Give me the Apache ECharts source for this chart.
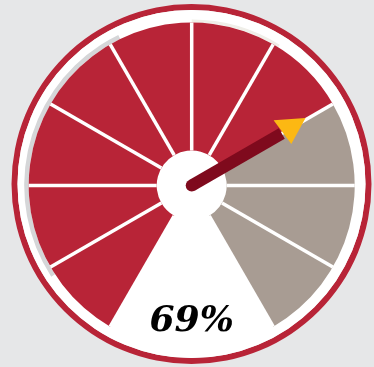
<!DOCTYPE html>
<html>
<head>
<meta charset="utf-8">
<style>
  html, body { margin: 0; padding: 0; background: #e6e7e8; }
  #chart { width: 374px; height: 367px; }
</style>
<script src="https://cdn.jsdelivr.net/npm/echarts@6/dist/echarts.min.js"></script>
</head>
<body>
<div id="chart"></div>
<script>
// ---- data ----
var gaugeValue = 69;            // percentage shown
var segmentCount = 10;          // number of wedges
var scaleMin = 0;
var scaleMax = 100;

// derived: the wedges fill in whole segments, pointer snaps to the filled boundary
var segStep = (scaleMax - scaleMin) / segmentCount;
var filledSegments = Math.round(gaugeValue / segStep);
var pointerValue = filledSegments * segStep;
var fillRatio = filledSegments / segmentCount;

var RED = '#b82437';
var GRAY = '#a89c93';
var DARK = '#7f0a1d';
var YELLOW = '#fcb813';
var CX = 191.7, CY = 185.5;

var chart = echarts.init(document.getElementById('chart'), null, { renderer: 'canvas' });

function ringGauge(center, radius, width, start, end, color, z) {
  return {
    type: 'gauge', center: center, radius: radius,
    startAngle: start, endAngle: end, z: z,
    axisLine: { show: true, lineStyle: { width: width, color: [[1, color]] } },
    splitLine: { show: false }, axisTick: { show: false }, axisLabel: { show: false },
    pointer: { show: false }, anchor: { show: false }, title: { show: false },
    detail: { show: false }, data: [{ value: 0 }], silent: true
  };
}

var option = {
  backgroundColor: '#e6e7e8',
  animation: false,
  polar: { center: [CX, CY], radius: 163 },
  angleAxis: { type: 'value', startAngle: 240, min: 0, max: scaleMax * 1.2, clockwise: true, show: false },
  radiusAxis: { type: 'value', min: 0, max: 163, show: false },
  series: [
    // outer red rim and white face
    ringGauge([191.5, 184], 180, 6, 90, -270, RED, 1),
    ringGauge([191.5, 184], 174, 174, 90, -270, '#ffffff', 1),
    // soft shadow along the left inner edge
    ringGauge([CX, CY], 167.5, 4.5, 213, 116, '#d5d6d8', 2),
    ringGauge([CX, CY], 166, 3, 90, 58, '#efeee8', 2),
    // wedges
    {
      type: 'gauge', center: [CX, CY], radius: 163,
      startAngle: 240, endAngle: -60, min: scaleMin, max: scaleMax,
      splitNumber: segmentCount, z: 3,
      axisLine: { show: true, lineStyle: { width: 128, color: [[fillRatio, RED], [1, GRAY]] } },
      splitLine: { show: true, distance: -128, length: 128, lineStyle: { color: '#ffffff', width: 3.5 } },
      axisTick: { show: false }, axisLabel: { show: false },
      pointer: { show: false }, anchor: { show: false }, title: { show: false },
      detail: {
        show: true, offsetCenter: [0, 136], formatter: '{value}%',
        fontFamily: 'DejaVu Serif', fontSize: 36, fontWeight: 'bold', fontStyle: 'italic',
        color: '#000000'
      },
      data: [{ value: gaugeValue }]
    },
    // pointer shaft
    {
      type: 'gauge', center: [CX, CY], radius: 163,
      startAngle: 240, endAngle: -60, min: scaleMin, max: scaleMax, z: 5,
      axisLine: { show: false }, splitLine: { show: false }, axisTick: { show: false }, axisLabel: { show: false },
      pointer: { show: true, icon: 'rect', length: 104, width: 12, offsetCenter: [0, 0], itemStyle: { color: DARK } },
      anchor: { show: true, size: 12, showAbove: true, itemStyle: { color: DARK } },
      title: { show: false }, detail: { show: false },
      data: [{ value: pointerValue }]
    },
    // arrow head
    {
      type: 'scatter', coordinateSystem: 'polar', z: 6,
      symbol: 'triangle', symbolSize: [32, 25], symbolRotate: 184, symbolOffset: [0, 3],
      itemStyle: { color: YELLOW, opacity: 1 },
      data: [[114, pointerValue]]
    }
  ]
};
chart.setOption(option);
</script>
</body>
</html>
